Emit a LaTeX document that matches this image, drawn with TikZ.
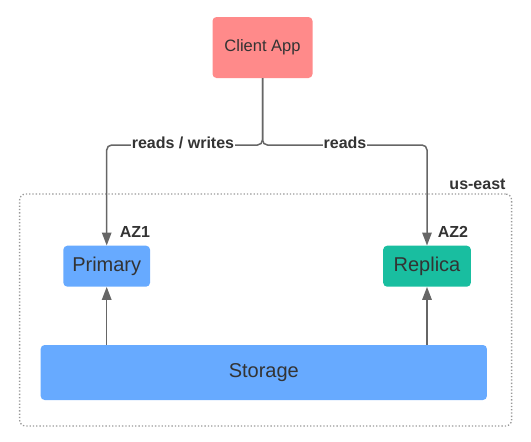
\documentclass[tikz,border=0pt]{standalone}
\usepackage{fontspec}
\setmainfont{Liberation Sans}
\usetikzlibrary{arrows.meta}
\definecolor{clientred}{HTML}{FF8A8A}
\definecolor{dbblue}{HTML}{67AAFF}
\definecolor{dbteal}{HTML}{19BEA0}
\definecolor{linegray}{HTML}{666666}
\definecolor{textgray}{HTML}{333333}
\definecolor{regiongray}{HTML}{999999}
\begin{document}
\begin{tikzpicture}[x=1pt,y=-1pt,
  box/.style={draw=none, rounded corners=4pt, inner sep=0pt, text=textgray, font=\fontsize{20}{24}\selectfont},
  conn/.style={draw=linegray, line width=1.5pt, -{Triangle[length=13pt,width=9.5pt]}},
  lbl/.style={font=\fontsize{16}{19}\selectfont\bfseries, text=textgray, inner sep=1pt},
  region/.style={draw=regiongray, dotted, line width=1.3pt, rounded corners=6pt, inner sep=0pt}]
\useasboundingbox (0,0) rectangle (531,442);
\node[region, minimum width=492pt, minimum height=232pt] (reg) at (265.6,310) {};
\node[lbl] (useast) at (477.5,184) {us-east};
\node[box, fill=clientred, minimum width=100pt, minimum height=61pt, font=\fontsize{16.5}{20}\selectfont] (client) at (262.5,47.5) {Client App};
\node[box, fill=dbblue, minimum width=86.7pt, minimum height=41pt] (primary) at (106.7,266.2) {Primary};
\node[box, fill=dbteal, minimum width=87.7pt, minimum height=41pt] (replica) at (427,266.2) {Replica};
\node[box, fill=dbblue, minimum width=446.3pt, minimum height=55pt] (storage) at (263.8,372.5) {Storage};
\node[lbl] (az1) at (135,231.7) {AZ1};
\node[lbl] (az2) at (453,231.7) {AZ2};
\coordinate (j) at (262.5,145);
\draw[conn, rounded corners=5pt] (client.south) -- (j) -| (primary.north);
\draw[conn, rounded corners=5pt] (client.south) -- (j) -| (replica.north);
\node[lbl, fill=white] (rw) at (183,143) {reads / writes};
\node[lbl, fill=white] (rd) at (345,143) {reads};
\draw[conn] (storage.north -| primary.south) -- (primary.south);
\draw[conn] (storage.north -| replica.south) -- (replica.south);
\end{tikzpicture}
\end{document}
